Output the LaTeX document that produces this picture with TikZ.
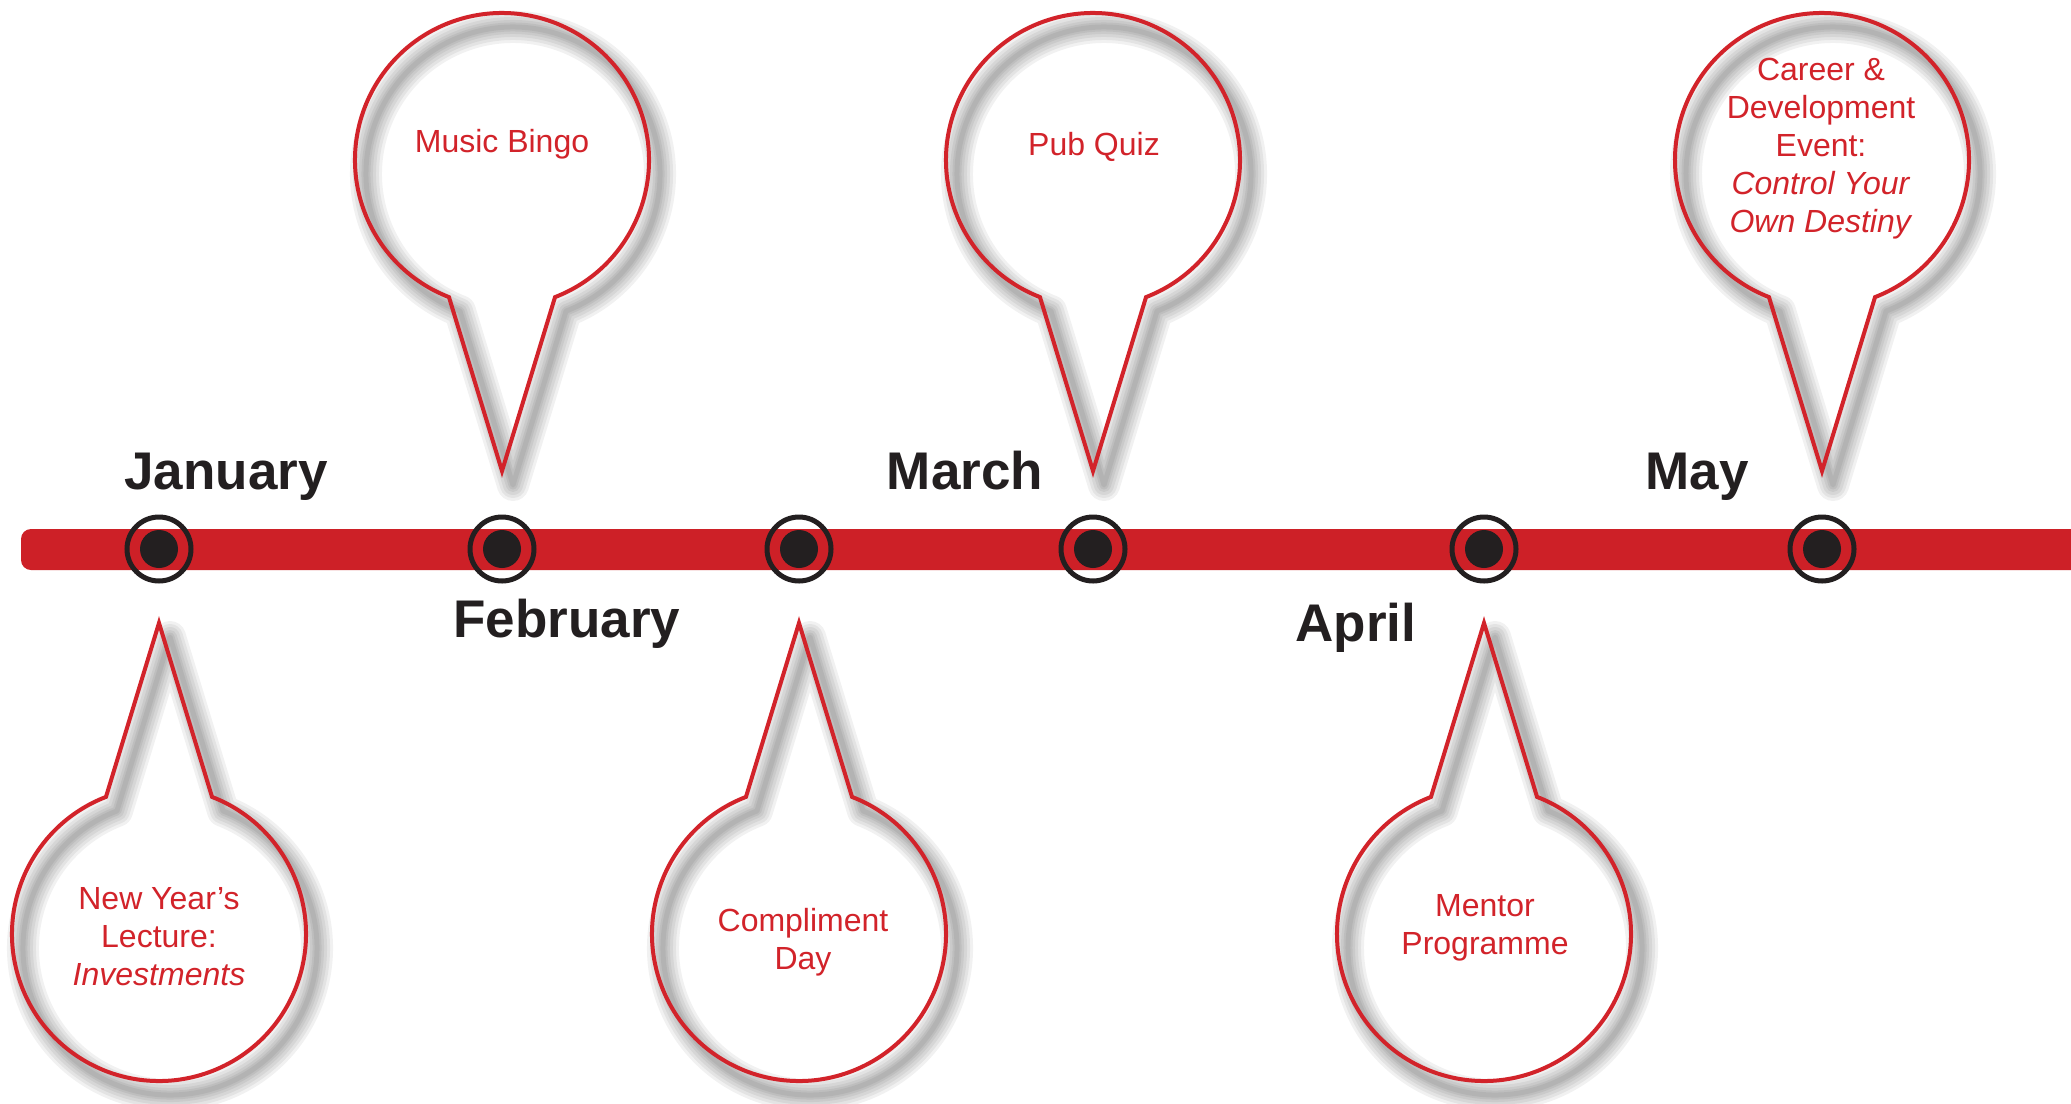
\documentclass[tikz,border=0pt]{standalone}
\usepackage{fontspec}
\setmainfont{Liberation Sans}
\definecolor{barred}{HTML}{CD2027}
\definecolor{lnred}{HTML}{D2232A}
\definecolor{txtred}{HTML}{D2232A}
\definecolor{ink}{HTML}{231F20}
\begin{document}
\begin{tikzpicture}[x=1pt,y=1pt,
  bubbleline/.style={draw=lnred, line width=4pt, line join=miter, miter limit=20},
  shadowstroke/.style={draw=black, draw opacity=0.055, line join=round},
  month/.style={font=\fontsize{53}{60}\selectfont\bfseries, text=ink, anchor=base, inner sep=0pt},
  evt/.style={font=\fontsize{32}{38}\selectfont, text=txtred, align=center, inner sep=0pt},
  ring/.style={circle, draw=ink, line width=5pt, minimum size=64pt, inner sep=0pt},
  dotmark/.style={circle, fill=ink, minimum size=38pt, inner sep=0pt},
  upbubble/.pic={
    \foreach \w in {32,26,20,14,9,5} {
      \draw[shadowstroke, line width=\w pt, shift={(11,-14)}]
        (0,-311) -- (-68.85:147) arc[start angle=-68.85, end angle=248.85, radius=147] -- cycle;
    }
    \draw[bubbleline] (0,-311) -- (-68.85:147) arc[start angle=-68.85, end angle=248.85, radius=147] -- cycle;
  },
  downbubble/.pic={
    \foreach \w in {32,26,20,14,9,5} {
      \draw[shadowstroke, line width=\w pt, shift={(11,-14)}]
        (0,311) -- (111.15:147) arc[start angle=111.15, end angle=428.85, radius=147] -- cycle;
    }
    \draw[bubbleline] (0,311) -- (111.15:147) arc[start angle=111.15, end angle=428.85, radius=147] -- cycle;
  }
]
\useasboundingbox[fill=white] (0,0) rectangle (2071,-1103);

% timeline bar
\fill[barred, rounded corners=10pt] (21,-529) rectangle (2110,-570);

% markers
\foreach \n/\x in {mJan/159, mFeb/502, mCom/799, mPub/1093, mMen/1484, mCar/1822} {
  \node[ring] (\n) at (\x,-549) {};
  \node[dotmark] (\n d) at (\x,-549) {};
}

% bubbles
\pic at (159,-934) {downbubble};
\pic at (502,-160) {upbubble};
\pic at (799,-934) {downbubble};
\pic at (1093,-160) {upbubble};
\pic at (1484,-934) {downbubble};
\pic at (1822,-160) {upbubble};

% event texts
\node[evt] (tJan) at (159,-937) {New Year’s\\Lecture:\\\textit{Investments}};
\node[evt] (tFeb) at (502,-144) {Music Bingo};
\node[evt] (tCom) at (803,-942) {Compliment\\Day};
\node[evt] (tPub) at (1094,-147) {Pub Quiz};
\node[evt] (tMen) at (1485,-928) {Mentor\\Programme};
\node[evt] (tCar) at (1821,-149) {Career \&\\Development\\Event:\\\textit{Control Your}\\\textit{Own Destiny}};

% month labels
\node[month] (lJan) at (226,-489) {January};
\node[month] (lFeb) at (567,-637) {February};
\node[month] (lMar) at (965,-489) {March};
\node[month] (lApr) at (1356,-641) {April};
\node[month] (lMay) at (1697,-489) {May};
\end{tikzpicture}
\end{document}
